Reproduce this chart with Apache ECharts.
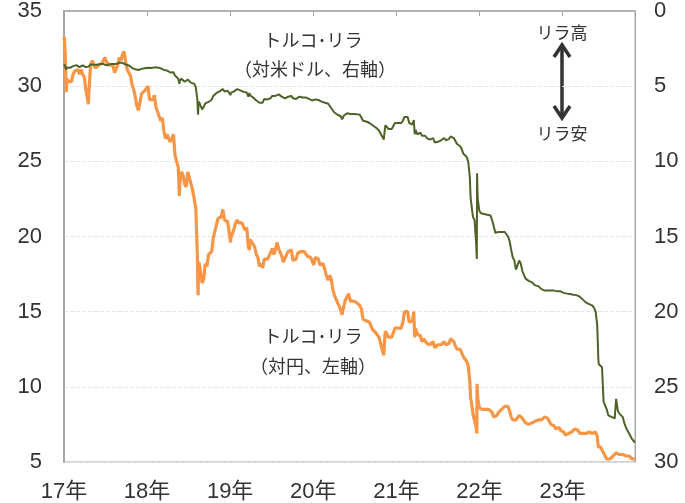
<!DOCTYPE html>
<html><head><meta charset="utf-8">
<script src="https://cdn.jsdelivr.net/npm/echarts@6/dist/echarts.min.js"></script>
<style>html,body{margin:0;padding:0;background:#fff}#c{width:685px;height:503px}</style>
</head><body><div id="c"></div>
<script>
// TRY/JPY (left axis)
const tryJpy = [
["2017-01-02",33.3],["2017-01-06",32.3],["2017-01-11",29.6],["2017-01-13",30.5],["2017-01-20",30.3],["2017-01-27",30.4],["2017-02-03",30.3],["2017-02-10",30.8],["2017-02-17",31.0],["2017-02-24",31.1],["2017-03-03",31.1],["2017-03-10",30.8],["2017-03-17",31.1],["2017-03-24",30.8],["2017-03-31",30.6],["2017-04-07",29.8],["2017-04-14",29.2],["2017-04-18",28.8],["2017-04-21",29.8],["2017-04-28",31.4],["2017-05-05",31.7],["2017-05-12",31.7],["2017-05-19",31.2],["2017-05-26",31.1],["2017-06-02",31.4],["2017-06-09",31.3],["2017-06-16",31.5],["2017-06-23",31.5],["2017-06-30",31.9],["2017-07-07",31.6],["2017-07-14",31.5],["2017-07-21",31.4],["2017-07-28",31.4],["2017-08-04",31.4],["2017-08-11",30.9],["2017-08-18",31.0],["2017-08-25",31.4],["2017-09-01",31.9],["2017-09-08",31.7],["2017-09-15",32.1],["2017-09-22",32.3],["2017-09-29",31.6],["2017-10-06",31.1],["2017-10-13",30.9],["2017-10-20",30.7],["2017-10-27",30.1],["2017-11-03",29.8],["2017-11-10",29.3],["2017-11-17",28.7],["2017-11-24",28.4],["2017-12-01",28.5],["2017-12-08",29.5],["2017-12-15",29.4],["2017-12-22",29.7],["2017-12-29",29.7],
["2018-01-05",30.0],["2018-01-12",29.1],["2018-01-19",29.2],["2018-01-26",29.1],["2018-02-02",29.4],["2018-02-09",28.6],["2018-02-16",28.3],["2018-02-23",28.2],["2018-03-02",27.7],["2018-03-09",27.9],["2018-03-16",27.0],["2018-03-23",26.5],["2018-03-30",26.8],["2018-04-06",26.5],["2018-04-13",26.3],["2018-04-20",26.5],["2018-04-27",26.8],["2018-05-04",25.4],["2018-05-11",25.5],["2018-05-18",24.6],["2018-05-23",22.7],["2018-05-25",23.5],["2018-06-01",24.3],["2018-06-08",24.1],["2018-06-15",23.5],["2018-06-22",23.3],["2018-06-29",24.3],["2018-07-06",23.9],["2018-07-13",23.5],["2018-07-20",23.1],["2018-07-27",23.0],["2018-08-03",21.9],["2018-08-10",18.8],["2018-08-13",16.1],["2018-08-15",17.9],["2018-08-17",18.3],["2018-08-24",17.6],["2018-08-31",16.9],["2018-09-07",17.2],["2018-09-14",18.2],["2018-09-21",18.0],["2018-09-28",18.8],["2018-10-05",18.8],["2018-10-12",19.0],["2018-10-19",19.9],["2018-10-26",20.0],["2018-11-02",20.8],["2018-11-09",21.2],["2018-11-16",21.1],["2018-11-23",21.3],["2018-11-30",21.8],["2018-12-07",21.1],["2018-12-14",21.0],["2018-12-21",21.0],["2018-12-28",20.9],
["2019-01-03",19.6],["2019-01-04",19.9],["2019-01-11",19.8],["2019-01-18",20.5],["2019-01-25",20.9],["2019-02-01",21.1],["2019-02-08",20.9],["2019-02-15",20.9],["2019-02-22",20.9],["2019-03-01",20.8],["2019-03-08",20.4],["2019-03-15",20.6],["2019-03-22",19.3],["2019-03-27",19.1],["2019-03-29",19.8],["2019-04-05",19.9],["2019-04-12",19.5],["2019-04-19",19.3],["2019-04-26",18.8],["2019-05-03",18.6],["2019-05-10",18.0],["2019-05-17",18.2],["2019-05-24",17.9],["2019-05-31",18.5],["2019-06-07",18.5],["2019-06-14",18.5],["2019-06-21",18.7],["2019-06-28",18.6],["2019-07-05",19.2],["2019-07-12",18.8],["2019-07-19",19.1],["2019-07-26",19.6],["2019-08-02",19.2],["2019-08-09",19.2],["2019-08-16",18.7],["2019-08-23",18.3],["2019-08-30",18.3],["2019-09-06",18.8],["2019-09-13",19.0],["2019-09-20",18.9],["2019-09-27",19.1],["2019-10-04",18.4],["2019-10-11",18.4],["2019-10-18",18.5],["2019-10-25",18.9],["2019-11-01",19.0],["2019-11-08",19.0],["2019-11-15",18.9],["2019-11-22",19.0],["2019-11-29",19.1],["2019-12-06",18.7],["2019-12-13",18.7],["2019-12-20",18.6],["2019-12-27",18.4],
["2020-01-03",18.1],["2020-01-10",18.6],["2020-01-17",18.7],["2020-01-24",18.5],["2020-01-31",18.1],["2020-02-07",18.2],["2020-02-14",18.2],["2020-02-21",18.3],["2020-02-28",17.4],["2020-03-06",17.1],["2020-03-13",17.4],["2020-03-20",17.2],["2020-03-27",16.5],["2020-04-03",16.1],["2020-04-10",16.1],["2020-04-17",15.6],["2020-04-24",15.4],["2020-05-01",15.3],["2020-05-07",14.8],["2020-05-15",15.4],["2020-05-22",15.8],["2020-05-29",15.9],["2020-06-05",16.2],["2020-06-12",15.7],["2020-06-19",15.6],["2020-06-26",15.7],["2020-07-03",15.7],["2020-07-10",15.6],["2020-07-17",15.6],["2020-07-24",15.4],["2020-07-31",15.2],["2020-08-07",14.5],["2020-08-14",14.5],["2020-08-21",14.4],["2020-08-28",14.4],["2020-09-04",14.3],["2020-09-11",14.2],["2020-09-18",13.8],["2020-09-25",13.7],["2020-10-02",13.6],["2020-10-09",13.5],["2020-10-16",13.3],["2020-10-23",13.2],["2020-10-30",12.5],["2020-11-06",12.1],["2020-11-11",13.4],["2020-11-13",13.7],["2020-11-20",13.6],["2020-11-27",13.3],["2020-12-04",13.4],["2020-12-11",13.3],["2020-12-18",13.3],["2020-12-25",13.9],
["2021-01-01",14.0],["2021-01-08",13.9],["2021-01-15",14.0],["2021-01-22",13.9],["2021-01-29",14.3],["2021-02-05",15.0],["2021-02-12",15.1],["2021-02-19",15.0],["2021-02-26",14.3],["2021-03-05",14.4],["2021-03-12",14.4],["2021-03-18",15.0],["2021-03-22",13.3],["2021-03-26",13.9],["2021-04-02",13.5],["2021-04-09",13.5],["2021-04-16",13.4],["2021-04-23",13.0],["2021-04-30",13.2],["2021-05-07",13.1],["2021-05-14",12.9],["2021-05-21",13.0],["2021-05-28",12.8],["2021-06-04",12.7],["2021-06-11",13.0],["2021-06-18",12.6],["2021-06-25",12.7],["2021-07-02",12.8],["2021-07-09",12.7],["2021-07-16",12.8],["2021-07-23",12.9],["2021-07-30",13.0],["2021-08-06",12.8],["2021-08-13",12.8],["2021-08-20",12.9],["2021-08-27",13.2],["2021-09-03",13.2],["2021-09-10",13.0],["2021-09-17",12.7],["2021-09-24",12.5],["2021-10-01",12.5],["2021-10-08",12.5],["2021-10-15",12.4],["2021-10-22",12.0],["2021-10-29",11.9],["2021-11-05",11.7],["2021-11-12",11.4],["2021-11-19",10.4],["2021-11-23",9.2],["2021-11-26",9.0],["2021-12-03",8.2],["2021-12-10",8.2],["2021-12-17",7.3],["2021-12-20",6.9],["2021-12-21",10.2],["2021-12-24",9.2],["2021-12-31",8.6],
["2022-01-07",8.5],["2022-01-14",8.5],["2022-01-21",8.4],["2022-01-28",8.5],["2022-02-04",8.5],["2022-02-11",8.5],["2022-02-18",8.5],["2022-02-25",8.3],["2022-03-04",8.0],["2022-03-11",8.0],["2022-03-18",8.1],["2022-03-25",8.3],["2022-04-01",8.3],["2022-04-08",8.5],["2022-04-15",8.6],["2022-04-22",8.7],["2022-04-29",8.7],["2022-05-06",8.7],["2022-05-13",8.4],["2022-05-20",8.0],["2022-05-27",7.8],["2022-06-03",7.9],["2022-06-10",7.8],["2022-06-17",7.8],["2022-06-24",8.1],["2022-07-01",8.0],["2022-07-08",7.9],["2022-07-15",8.0],["2022-07-22",7.6],["2022-07-29",7.5],["2022-08-05",7.5],["2022-08-12",7.4],["2022-08-19",7.6],["2022-08-26",7.6],["2022-09-02",7.7],["2022-09-09",7.8],["2022-09-16",7.8],["2022-09-23",7.8],["2022-09-30",7.8],["2022-10-07",7.8],["2022-10-14",8.0],["2022-10-21",7.9],["2022-10-28",7.9],["2022-11-04",7.9],["2022-11-11",7.5],["2022-11-18",7.5],["2022-11-25",7.4],["2022-12-02",7.2],["2022-12-09",7.3],["2022-12-16",7.3],["2022-12-23",7.1],["2022-12-30",7.0],
["2023-01-06",7.0],["2023-01-13",6.8],["2023-01-20",6.9],["2023-01-27",6.9],["2023-02-03",7.0],["2023-02-10",7.0],["2023-02-17",7.1],["2023-02-24",7.2],["2023-03-03",7.2],["2023-03-10",7.1],["2023-03-17",6.9],["2023-03-24",6.9],["2023-03-31",6.9],["2023-04-07",6.8],["2023-04-14",6.9],["2023-04-21",6.9],["2023-04-28",7.0],["2023-05-05",6.9],["2023-05-12",6.9],["2023-05-19",7.0],["2023-05-26",7.0],["2023-06-02",6.7],["2023-06-07",6.0],["2023-06-09",6.0],["2023-06-16",6.0],["2023-06-23",6.1],["2023-06-30",5.6],["2023-07-07",5.4],["2023-07-14",5.2],["2023-07-21",5.3],["2023-07-28",5.2],["2023-08-04",5.3],["2023-08-11",5.4],["2023-08-18",5.4],["2023-08-24",5.6],["2023-09-01",5.5],["2023-09-08",5.5],["2023-09-15",5.5],["2023-09-22",5.5],["2023-09-29",5.5],["2023-10-06",5.4],["2023-10-13",5.4],["2023-10-20",5.4],["2023-10-27",5.3],["2023-11-03",5.2],["2023-11-10",5.3],["2023-11-15",5.2]
];
// USD/TRY (right axis, inverted)
const usdTry = [
["2017-01-02",3.53],["2017-01-06",3.62],["2017-01-11",3.90],["2017-01-13",3.75],["2017-01-20",3.78],["2017-01-27",3.78],["2017-02-03",3.72],["2017-02-10",3.67],["2017-02-17",3.64],["2017-02-24",3.60],["2017-03-03",3.67],["2017-03-10",3.73],["2017-03-17",3.62],["2017-03-24",3.61],["2017-03-31",3.64],["2017-04-07",3.73],["2017-04-14",3.72],["2017-04-18",3.70],["2017-04-21",3.66],["2017-04-28",3.55],["2017-05-05",3.55],["2017-05-12",3.58],["2017-05-19",3.57],["2017-05-26",3.58],["2017-06-02",3.52],["2017-06-09",3.52],["2017-06-16",3.52],["2017-06-23",3.53],["2017-06-30",3.52],["2017-07-07",3.61],["2017-07-14",3.57],["2017-07-21",3.54],["2017-07-28",3.53],["2017-08-04",3.53],["2017-08-11",3.53],["2017-08-18",3.52],["2017-08-25",3.48],["2017-09-01",3.45],["2017-09-08",3.40],["2017-09-15",3.45],["2017-09-22",3.47],["2017-09-29",3.56],["2017-10-06",3.62],["2017-10-13",3.62],["2017-10-20",3.70],["2017-10-27",3.78],["2017-11-03",3.83],["2017-11-10",3.88],["2017-11-17",3.90],["2017-11-24",3.92],["2017-12-01",3.93],["2017-12-08",3.85],["2017-12-15",3.83],["2017-12-22",3.81],["2017-12-29",3.79],
["2018-01-05",3.77],["2018-01-12",3.81],["2018-01-19",3.79],["2018-01-26",3.73],["2018-02-02",3.75],["2018-02-09",3.80],["2018-02-16",3.76],["2018-02-23",3.79],["2018-03-02",3.81],["2018-03-09",3.82],["2018-03-16",3.92],["2018-03-23",3.95],["2018-03-30",3.96],["2018-04-06",4.03],["2018-04-13",4.09],["2018-04-20",4.06],["2018-04-27",4.07],["2018-05-04",4.30],["2018-05-11",4.29],["2018-05-18",4.50],["2018-05-23",4.85],["2018-05-25",4.65],["2018-06-01",4.50],["2018-06-08",4.55],["2018-06-15",4.71],["2018-06-22",4.72],["2018-06-29",4.56],["2018-07-06",4.62],["2018-07-13",4.78],["2018-07-20",4.82],["2018-07-27",4.83],["2018-08-03",5.07],["2018-08-10",5.90],["2018-08-13",6.90],["2018-08-15",6.20],["2018-08-17",6.03],["2018-08-24",6.30],["2018-08-31",6.55],["2018-09-07",6.45],["2018-09-14",6.15],["2018-09-21",6.25],["2018-09-28",6.05],["2018-10-05",6.05],["2018-10-12",5.90],["2018-10-19",5.65],["2018-10-26",5.60],["2018-11-02",5.45],["2018-11-09",5.38],["2018-11-16",5.35],["2018-11-23",5.30],["2018-11-30",5.20],["2018-12-07",5.35],["2018-12-14",5.40],["2018-12-21",5.30],["2018-12-28",5.27],
["2019-01-03",5.60],["2019-01-04",5.45],["2019-01-11",5.48],["2019-01-18",5.35],["2019-01-25",5.25],["2019-02-01",5.20],["2019-02-08",5.25],["2019-02-15",5.28],["2019-02-22",5.30],["2019-03-01",5.38],["2019-03-08",5.45],["2019-03-15",5.42],["2019-03-22",5.70],["2019-03-27",5.45],["2019-03-29",5.60],["2019-04-05",5.62],["2019-04-12",5.75],["2019-04-19",5.80],["2019-04-26",5.95],["2019-05-03",5.98],["2019-05-10",6.10],["2019-05-17",6.05],["2019-05-24",6.10],["2019-05-31",5.85],["2019-06-07",5.85],["2019-06-14",5.88],["2019-06-21",5.75],["2019-06-28",5.80],["2019-07-05",5.65],["2019-07-12",5.75],["2019-07-19",5.65],["2019-07-26",5.55],["2019-08-02",5.55],["2019-08-09",5.50],["2019-08-16",5.70],["2019-08-23",5.75],["2019-08-30",5.82],["2019-09-06",5.70],["2019-09-13",5.70],["2019-09-20",5.70],["2019-09-27",5.65],["2019-10-04",5.80],["2019-10-11",5.90],["2019-10-18",5.85],["2019-10-25",5.75],["2019-11-01",5.70],["2019-11-08",5.75],["2019-11-15",5.75],["2019-11-22",5.73],["2019-11-29",5.75],["2019-12-06",5.80],["2019-12-13",5.85],["2019-12-20",5.90],["2019-12-27",5.95],
["2020-01-03",5.98],["2020-01-10",5.88],["2020-01-17",5.88],["2020-01-24",5.92],["2020-01-31",5.98],["2020-02-07",6.03],["2020-02-14",6.05],["2020-02-21",6.10],["2020-02-28",6.23],["2020-03-06",6.15],["2020-03-13",6.22],["2020-03-20",6.45],["2020-03-27",6.55],["2020-04-03",6.75],["2020-04-10",6.75],["2020-04-17",6.90],["2020-04-24",7.00],["2020-05-01",7.00],["2020-05-07",7.20],["2020-05-15",6.95],["2020-05-22",6.82],["2020-05-29",6.80],["2020-06-05",6.75],["2020-06-12",6.85],["2020-06-19",6.85],["2020-06-26",6.85],["2020-07-03",6.85],["2020-07-10",6.86],["2020-07-17",6.85],["2020-07-24",6.90],["2020-07-31",6.98],["2020-08-07",7.30],["2020-08-14",7.35],["2020-08-21",7.35],["2020-08-28",7.35],["2020-09-04",7.45],["2020-09-11",7.50],["2020-09-18",7.60],["2020-09-25",7.70],["2020-10-02",7.75],["2020-10-09",7.85],["2020-10-16",7.95],["2020-10-23",7.95],["2020-10-30",8.35],["2020-11-06",8.55],["2020-11-11",7.85],["2020-11-13",7.60],["2020-11-20",7.65],["2020-11-27",7.85],["2020-12-04",7.80],["2020-12-11",7.85],["2020-12-18",7.75],["2020-12-25",7.45],
["2021-01-01",7.40],["2021-01-08",7.45],["2021-01-15",7.40],["2021-01-22",7.45],["2021-01-29",7.30],["2021-02-05",7.05],["2021-02-12",6.95],["2021-02-19",7.05],["2021-02-26",7.45],["2021-03-05",7.50],["2021-03-12",7.55],["2021-03-18",7.25],["2021-03-22",8.20],["2021-03-26",7.90],["2021-04-02",8.20],["2021-04-09",8.15],["2021-04-16",8.10],["2021-04-23",8.30],["2021-04-30",8.25],["2021-05-07",8.30],["2021-05-14",8.45],["2021-05-21",8.40],["2021-05-28",8.55],["2021-06-04",8.60],["2021-06-11",8.45],["2021-06-18",8.75],["2021-06-25",8.70],["2021-07-02",8.70],["2021-07-09",8.65],["2021-07-16",8.60],["2021-07-23",8.55],["2021-07-30",8.45],["2021-08-06",8.60],["2021-08-13",8.60],["2021-08-20",8.50],["2021-08-27",8.35],["2021-09-03",8.30],["2021-09-10",8.45],["2021-09-17",8.65],["2021-09-24",8.85],["2021-10-01",8.90],["2021-10-08",9.00],["2021-10-15",9.20],["2021-10-22",9.50],["2021-10-29",9.55],["2021-11-05",9.70],["2021-11-12",10.0],["2021-11-19",11.0],["2021-11-23",12.5],["2021-11-26",12.6],["2021-12-03",13.7],["2021-12-10",13.9],["2021-12-17",15.5],["2021-12-20",16.5],["2021-12-21",10.8],["2021-12-24",12.5],["2021-12-31",13.3],
["2022-01-07",13.45],["2022-01-14",13.55],["2022-01-21",13.5],["2022-01-28",13.4],["2022-02-04",13.55],["2022-02-11",13.55],["2022-02-18",13.6],["2022-02-25",13.9],["2022-03-04",14.3],["2022-03-11",14.75],["2022-03-18",14.8],["2022-03-25",14.7],["2022-04-01",14.7],["2022-04-08",14.7],["2022-04-15",14.65],["2022-04-22",14.7],["2022-04-29",14.85],["2022-05-06",15.0],["2022-05-13",15.3],["2022-05-20",15.9],["2022-05-27",16.4],["2022-06-03",16.6],["2022-06-10",17.2],["2022-06-17",17.3],["2022-06-24",16.6],["2022-07-01",16.8],["2022-07-08",17.3],["2022-07-15",17.4],["2022-07-22",17.8],["2022-07-29",17.9],["2022-08-05",17.95],["2022-08-12",17.95],["2022-08-19",18.05],["2022-08-26",18.15],["2022-09-02",18.25],["2022-09-09",18.25],["2022-09-16",18.3],["2022-09-23",18.35],["2022-09-30",18.5],["2022-10-07",18.55],["2022-10-14",18.6],["2022-10-21",18.6],["2022-10-28",18.6],["2022-11-04",18.6],["2022-11-11",18.6],["2022-11-18",18.6],["2022-11-25",18.6],["2022-12-02",18.65],["2022-12-09",18.65],["2022-12-16",18.65],["2022-12-23",18.65],["2022-12-30",18.7],
["2023-01-06",18.75],["2023-01-13",18.8],["2023-01-20",18.8],["2023-01-27",18.8],["2023-02-03",18.82],["2023-02-10",18.85],["2023-02-17",18.87],["2023-02-24",18.9],["2023-03-03",18.9],["2023-03-10",18.95],["2023-03-17",19.0],["2023-03-24",19.05],["2023-03-31",19.2],["2023-04-07",19.3],["2023-04-14",19.4],["2023-04-21",19.45],["2023-04-28",19.5],["2023-05-05",19.55],["2023-05-12",19.6],["2023-05-19",19.75],["2023-05-26",20.0],["2023-06-02",20.9],["2023-06-07",23.2],["2023-06-09",23.5],["2023-06-16",23.6],["2023-06-23",23.7],["2023-06-30",26.0],["2023-07-07",26.1],["2023-07-14",26.5],["2023-07-21",26.9],["2023-07-28",27.0],["2023-08-04",27.0],["2023-08-11",27.0],["2023-08-18",27.1],["2023-08-24",25.8],["2023-09-01",26.6],["2023-09-08",26.8],["2023-09-15",26.9],["2023-09-22",27.0],["2023-09-29",27.4],["2023-10-06",27.7],["2023-10-13",27.9],["2023-10-20",28.0],["2023-10-27",28.3],["2023-11-03",28.5],["2023-11-10",28.6],["2023-11-15",28.7]
];
const leftTicks = {min: 5, max: 35, interval: 5};
const rightTicks = {min: 0, max: 30, interval: 5};
const xRange = {min: "2017-01-01", max: "2023-11-15"};

const chart = echarts.init(document.getElementById('c'), null, {renderer: 'canvas'});
const axisFont = {fontFamily: 'Liberation Sans, Arial, sans-serif', fontSize: 22, color: '#333'};
const jpFont = '"Noto Sans CJK JP", sans-serif';
const YEAR = 365 * 24 * 3600 * 1000;
chart.setOption({
  animation: false,
  grid: {left: 64, right: 50, top: 8, bottom: 41, show: true, borderColor: '#a6a6a6', borderWidth: 1},
  xAxis: {
    type: 'time', min: xRange.min, max: xRange.max,
    minInterval: YEAR, maxInterval: YEAR * 1.01,
    axisLine: {show: true, lineStyle: {color: '#a6a6a6', width: 1.5}},
    axisTick: {show: true, length: 5, lineStyle: {color: '#a6a6a6'}},
    splitLine: {show: false},
    axisLabel: Object.assign({}, axisFont, {
      fontFamily: 'Liberation Sans, "Noto Sans CJK JP", sans-serif',
      margin: 19, showMinLabel: true, showMaxLabel: false,
      formatter: function (v) { return (new Date(v).getFullYear() % 100) + '年'; }
    })
  },
  yAxis: [{
    type: 'value', min: leftTicks.min, max: leftTicks.max, interval: leftTicks.interval,
    axisLine: {show: true, lineStyle: {color: '#a6a6a6', width: 2}},
    axisTick: {show: false},
    splitLine: {show: true, lineStyle: {color: '#e6e6e6', type: 'dashed', width: 1}},
    axisLabel: Object.assign({}, axisFont, {margin: 22})
  }, {
    type: 'value', inverse: true, min: rightTicks.min, max: rightTicks.max, interval: rightTicks.interval,
    axisLine: {show: true, lineStyle: {color: '#a6a6a6', width: 1}},
    axisTick: {show: false},
    splitLine: {show: false},
    axisLabel: Object.assign({}, axisFont, {margin: 19})
  }],
  series: [{
    name: 'トルコ・リラ（対円、左軸）', type: 'line', yAxisIndex: 0, data: tryJpy,
    showSymbol: false, symbol: 'none', lineStyle: {color: '#F79646', width: 3.2}, z: 2
  }, {
    name: 'トルコ・リラ（対米ドル、右軸）', type: 'line', yAxisIndex: 1, data: usdTry,
    showSymbol: false, symbol: 'none', lineStyle: {color: '#4F6228', width: 2}, z: 3
  }],
  graphic: [
    {type: 'text', x: 313, y: 40, style: {text: 'トルコ･リラ', font: '18px ' + jpFont, fill: '#333', align: 'center', verticalAlign: 'middle'}},
    {type: 'text', x: 315, y: 69, style: {text: '（対米ドル、右軸）', font: '18px ' + jpFont, fill: '#333', align: 'center', verticalAlign: 'middle'}},
    {type: 'text', x: 313, y: 336, style: {text: 'トルコ･リラ', font: '18px ' + jpFont, fill: '#333', align: 'center', verticalAlign: 'middle'}},
    {type: 'text', x: 313, y: 366, style: {text: '（対円、左軸）', font: '18px ' + jpFont, fill: '#333', align: 'center', verticalAlign: 'middle'}},
    {type: 'text', x: 562, y: 33, style: {text: 'リラ高', font: '17px ' + jpFont, fill: '#333', align: 'center', verticalAlign: 'middle'}},
    {type: 'text', x: 562, y: 134, style: {text: 'リラ安', font: '17px ' + jpFont, fill: '#333', align: 'center', verticalAlign: 'middle'}},
    {type: 'line', shape: {x1: 562, y1: 46, x2: 562, y2: 117}, style: {stroke: '#333', lineWidth: 3.5}},
    {type: 'polyline', shape: {points: [[554, 57], [562, 45], [570, 57]]}, style: {stroke: '#333', lineWidth: 3.5, fill: null}},
    {type: 'polyline', shape: {points: [[554, 106], [562, 118], [570, 106]]}, style: {stroke: '#333', lineWidth: 3.5, fill: null}}
  ]
});
</script></body></html>
